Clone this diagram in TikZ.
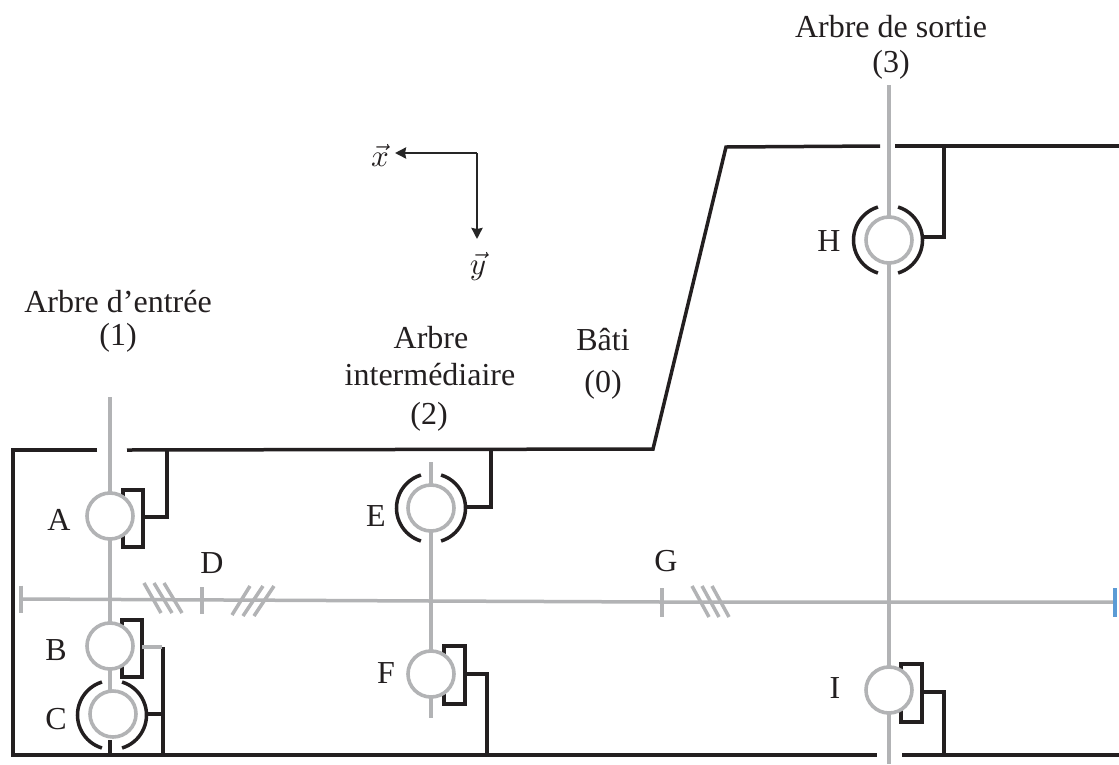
\documentclass[tikz,border=0pt]{standalone}
\usepackage{fontspec}
\setmainfont{Liberation Serif}
\definecolor{shaftgrey}{RGB}{178,179,181}
\definecolor{framek}{RGB}{35,31,32}
\definecolor{tickblue}{RGB}{91,155,213}
\usetikzlibrary{arrows.meta}
\tikzset{
  blk/.style={draw=framek,line width=3.5pt,line join=miter},
  gry/.style={draw=shaftgrey,line width=3.5pt},
  ball/.style={circle,draw=shaftgrey,line width=3.6pt,fill=white,minimum size=46pt,inner sep=0pt,outer sep=0pt},
  txt/.style={inner sep=0pt,text=framek,font=\fontsize{32}{38}\selectfont,align=center},
  vect/.style={inner sep=0pt,text=framek},
  axis/.style={draw=black!85,line width=2.4pt,-{Stealth[length=11pt,width=11pt,inset=1pt]}}
}
\begin{document}
\begin{tikzpicture}[x=1pt,y=-1pt]
\useasboundingbox (0,0) rectangle (1119,764);
\fill[white] (0,0) rectangle (1119,764);
% frame
\coordinate (f1) at (97,450); \coordinate (f2) at (13,450); \coordinate (f3) at (13,755); \coordinate (f4) at (877,755);
\coordinate (f5) at (902,755); \coordinate (f6) at (1119,755);
\coordinate (t1) at (127,450); \coordinate (t2) at (653,449); \coordinate (t3) at (726,147); \coordinate (t4) at (880,146);
\coordinate (t5) at (895,146); \coordinate (t6) at (1119,146);
\draw[blk] (f1) -- (f2) -- (f3) -- (f4);
\draw[blk] (f5) -- (f6);
\draw[blk] (t1) -- (t2) -- (t3) -- (t4);
\draw[blk] (t5) -- (t6);
% main horizontal shaft
\coordinate (h0) at (21,599); \coordinate (h1) at (431,601); \coordinate (h2) at (662,602); \coordinate (h3) at (1115,602);
\draw[gry] (h0) -- (h1) -- (h2) -- (h3);
\draw[gry] (21,585.5) -- (21,613);
\draw[gry] (202,587) -- (202,614);
\draw[gry] (662,588) -- (662,617);
\draw[draw=tickblue,line width=3.5pt] (1115,588) -- (1115,617);
\draw[gry] (144,583) -- (161,613) (154,583) -- (172,613) (164,583) -- (182,613);
\draw[gry] (232,615) -- (250,586) (243,616) -- (263,586) (254,616) -- (274,586);
\draw[gry] (692,586) -- (709,617) (702,586) -- (719,617) (712,586) -- (729,617);
% bearing housings
\draw[blk] (123,490) rectangle (143,547);
\draw[blk] (122,620) rectangle (142,677);
\draw[blk] (444,646) rectangle (465,704);
\draw[blk] (901,664) rectangle (922,722);
% links to frame
\draw[blk] (143,517) -- (167,517) -- (167,450);
\draw[blk] (163,647) -- (163,755);
\draw[gry] (142,647) -- (162,647);
\draw[blk] (147,714) -- (163,714);
\draw[blk] (467,507) -- (491,507) -- (491,450);
\draw[blk] (465,674) -- (487,674) -- (487,755);
\draw[blk] (923,237) -- (944,237) -- (944,146);
\draw[blk] (922,692) -- (944,692) -- (944,755);
% balls
\node[ball] (A) at (110,516) {};
\node[ball] (B) at (110,646) {};
\node[ball] (C) at (113,714) {};
\node[ball] (E) at (431,508) {};
\node[ball] (F) at (431,674) {};
\node[ball] (H) at (889,240) {};
\node[ball] (I) at (889,690) {};
% outer races
\foreach \n/\c in {C/{(112,715)},E/{(431,508)},H/{(888,240)}}{
  \draw[blk] \c ++(73:34.5) arc (73:-73:34.5);
  \draw[blk] \c ++(107:34.5) arc (107:253:34.5);
}
% vertical shafts
\coordinate (s1) at (110,397); \coordinate (s2) at (431,462); \coordinate (s3) at (431,718);
\coordinate (s4) at (889,85); \coordinate (s5) at (889,764); \coordinate (s6) at (110,755); \coordinate (s7) at (110,740);
\draw[gry] (s1) -- (A.north);
\draw[gry] (A.south) -- (B.north);
\draw[gry] (B.south) -- (110,691);
\draw[blk] (s7) -- (s6);
\draw[gry] (s2) -- (E.north);
\draw[gry] (E.south) -- (F.north);
\draw[gry] (F.south) -- (s3);
\draw[gry] (s4) -- (H.north);
\draw[gry] (H.south) -- (I.north);
\draw[gry] (I.south) -- (s5);
% axes
\coordinate (o) at (477,153); \coordinate (ax) at (395,153); \coordinate (ay) at (477,239);
\draw[axis] (o) -- (ax);
\draw[axis] (o) -- (ay);
\node[vect] (xl) at (380,155) {\scalebox{3.1}{$\vec{x}$}};
\node[vect] (yl) at (478,266) {\scalebox{3.1}{$\vec{y}$}};
% labels
\node[txt] (la) at (59,520) {A};
\node[txt] (lb) at (56,650) {B};
\node[txt] (lc) at (56,719) {C};
\node[txt] (ld) at (212,563) {D};
\node[txt] (le) at (376,516) {E};
\node[txt] (lf) at (386,673) {F};
\node[txt] (lg) at (666,561) {G};
\node[txt] (lh) at (829,241) {H};
\node[txt] (li) at (835,688) {I};
\node[txt] (n1) at (118,302) {Arbre d’entrée};
\node[txt] (n1b) at (118,338) {(1)};
\node[txt] (n2a) at (431,338) {Arbre};
\node[txt] (n2b) at (430,375) {intermédiaire};
\node[txt] (n2c) at (429,417) {(2)};
\node[txt] (n0) at (603,340) {Bâti};
\node[txt] (n0b) at (603,385) {(0)};
\node[txt] (n3) at (891,27) {Arbre de sortie};
\node[txt] (n3b) at (891,65) {(3)};
\end{tikzpicture}
\end{document}
